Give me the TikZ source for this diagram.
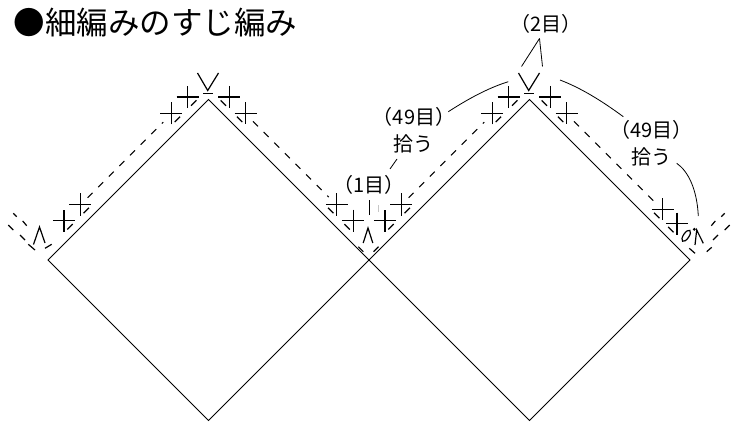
\documentclass[tikz,border=0pt]{standalone}
\usepackage{fontspec}
\newfontfamily\jp{Noto Sans CJK JP}
\tikzset{
  sq/.style={line width=0.8pt, line join=miter},
  sym/.style={line width=1.2pt},
  rowline/.style={line width=1pt, dash pattern=on 7pt off 8pt},
  lead/.style={line width=0.8pt},
  lbl/.style={font=\jp\fontsize{20}{20}\selectfont, inner sep=0pt, anchor=base},
  ttl/.style={font=\jp\fontsize{31.5}{31.5}\selectfont, inner sep=0pt, anchor=base west},
  sc/.pic={\draw[sym] (-7.8,-7.8)--(7.8,7.8) (-7.8,7.8)--(7.8,-7.8);
           \draw[sym] (-3.8,-8.5)--(3.8,-8.5);}
}
\begin{document}
\begin{tikzpicture}[x=1pt,y=1pt]
\useasboundingbox (0,0) rectangle (733,421);

% squares
\draw[sq] (208.5,321.5) -- (369,161) -- (208.5,0.5) -- (48,161) -- cycle;
\draw[sq] (529.5,321.5) -- (690,161) -- (529.5,0.5) -- (369,161) -- cycle;

% edge A
\begin{scope}[shift={(48,161)}, rotate=45]
  \foreach \t in {39,62,191,214} \pic[transform shape] at (\t,16.5) {sc};
  \draw[rowline] (72,16) -- (179,16);
\end{scope}
% edge B
\begin{scope}[shift={(208.5,321.5)}, rotate=-45]
  \foreach \t in {13,36,165,188} \pic[transform shape] at (\t,16.5) {sc};
  \draw[rowline] (47,16) -- (154,16);
\end{scope}
% edge C
\begin{scope}[shift={(369,161)}, rotate=45]
  \foreach \t in {39,62,191,214} \pic[transform shape] at (\t,16.5) {sc};
  \draw[rowline] (72,16) -- (179,16);
\end{scope}
% edge D
\begin{scope}[shift={(529.5,321.5)}, rotate=-45]
  \foreach \t in {13,36,172,192} \pic[transform shape] at (\t,16.5) {sc};
  \draw[rowline] (47,16) -- (161,16);
\end{scope}

% increases at top vertices
\foreach \vx in {208.5,529.5} {
  \draw[sym] (\vx-11,348) -- (\vx-0.8,330.5) -- (\vx+10,348);
  \draw[sym] (\vx-5.5,327.5) -- (\vx+4,327.5);
}

% decrease at the middle valley
\draw[sym] (363.2,178) -- (368,193) -- (372.8,178);
\draw[sym] (358.3,174.3) -- (363.3,169.3);
\draw[sym] (373.5,169.3) -- (378.5,174.3);

% decrease at the left vertex + continuation
\draw[sym] (33.5,176.5) -- (39.5,194) -- (45,178);
\draw[sym] (28.3,176.7) -- (35,171);
\draw[sym] (45,172.7) -- (51.7,176.7);
\draw[sym] (8.3,196) -- (13.3,191);
\draw[sym] (20,186) -- (25,181);
\draw[sym] (13.3,207.7) -- (16.7,204.3);
\draw[sym] (22.7,200) -- (26.7,195.3);

% right vertex: chain, slip, decrease, continuation
\draw[sym] (695,176) -- (696.7,191) -- (703.3,177.7);
\draw[sym] (689.3,172.7) -- (695,167.7);
\draw[sym] (706.7,169.3) -- (711.7,173.7);
\draw[sym] (686.2,185.2) ellipse[x radius=6.5, y radius=2.8, rotate=56];
\fill (694.3,191.7) circle (1.6);
\draw[sym] (729.7,196) -- (724.7,191);
\draw[sym] (718,186) -- (713,181);
\draw[sym] (724.7,207.7) -- (721.3,204.3);
\draw[sym] (715.3,200) -- (711.3,195.3);

% labels
\node[ttl] (title) at (13.5,386.6) {●細編みのすじ編み};
\node[lbl] (two) at (545.8,389.4) {（2目）};
\node[lbl] (l49) at (414,296.9) {（49目）};
\node[lbl] (lpick) at (413.5,269.4) {拾う};
\node[lbl] (r49) at (651.5,283.4) {（49目）};
\node[lbl] (rpick) at (651,256.4) {拾う};
\node[lbl] (one) at (369.2,228.4) {（1目）};

% leaders
\coordinate (twoA) at (539.5,382.5);
\draw[lead] (twoA) -- (521.5,354.5);
\draw[lead] (twoA) -- (542.5,354.5);
\draw[lead] (369,206) -- (369,221);
\draw[lead, gray!45] (378.5,209) -- (378.5,216);
\draw[lead] (448.3,309.3) .. controls (468,322) and (488,333) .. (508.3,339.3);
\draw[lead] (397,262) -- (390,252);
\draw[lead] (560,341) .. controls (581,333) and (602,320) .. (623.3,304.3);
\draw[lead] (676.7,257.7) .. controls (688,250) and (697,232) .. (698.3,205);
\end{tikzpicture}
\end{document}
